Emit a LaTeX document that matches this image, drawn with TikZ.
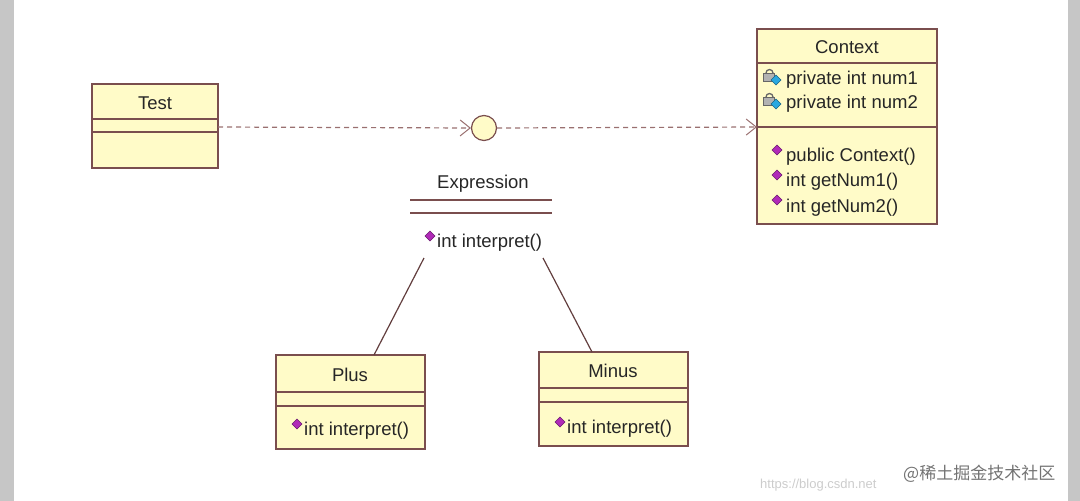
\documentclass[tikz,border=0pt]{standalone}
\usepackage{fontspec}
\setmainfont{Liberation Sans}
\newfontfamily\cjk{Noto Sans CJK SC}
\usetikzlibrary{arrows.meta}
\definecolor{fillY}{HTML}{FFFBC8}
\definecolor{brd}{HTML}{7A4E4E}
\definecolor{dash}{HTML}{9A7070}
\definecolor{mag}{HTML}{B02AB8}
\definecolor{lk}{HTML}{2AA8E0}
\tikzset{
  box/.style={draw=brd,fill=fillY,line width=1.4pt},
  sep/.style={draw=brd,line width=1.4pt},
  txt/.style={font=\fontsize{18.5}{20}\selectfont,text=black!85,inner sep=0pt},
  dep/.style={draw=dash,line width=1.2pt,dash pattern=on 5pt off 4pt,-{Straight Barb[length=10pt,width=16pt,line width=1pt]}},
  assoc/.style={draw=brd!80!black,line width=1.2pt},
  meth/.pic={\fill[mag,draw=mag!60!black,line width=0.4pt] (0,-5)--(5,0)--(0,5)--(-5,0)--cycle;},
  priv/.pic={\draw[black!60,line width=1.3pt] (-6,-4) arc (180:360:3.5); \fill[gray!60,draw=black!60] (-9,-4) rectangle (2,4); \fill[lk,draw=lk!60!black] (4,-2)--(9,3)--(4,8)--(-1,3)--cycle;}
}
\begin{document}
\begin{tikzpicture}[x=1pt,y=-1pt]
\useasboundingbox (0,0) rectangle (1080,501);
\fill[gray!45] (0,0) rectangle (14,501);
\fill[gray!45] (1068,0) rectangle (1080,501);
% Test
\draw[box] (92,84) rectangle (218,168);
\draw[sep] (92,119)--(218,119) (92,132)--(218,132);
\node[txt] (test) at (155,103) {Test};
\coordinate (testR) at (218,127);
% Context
\draw[box] (757,29) rectangle (937,224);
\draw[sep] (757,63)--(937,63) (757,127)--(937,127);
\node[txt] (ctx) at (847,47) {Context};
\coordinate (ctxL) at (757,127);
\pic at (772,77) {priv}; \node[txt,anchor=west] (a1) at (786,80) {private int num1};
\pic at (772,101) {priv}; \node[txt,anchor=west] (a2) at (786,104) {private int num2};
\pic at (777,150) {meth}; \node[txt,anchor=west] (m1) at (786,157) {public Context()};
\pic at (777,175) {meth}; \node[txt,anchor=west] (m2) at (786,182) {int getNum1()};
\pic at (777,200) {meth}; \node[txt,anchor=west] (m3) at (786,208) {int getNum2()};
% interface circle
\node[circle,draw=brd,fill=fillY,line width=1.2pt,minimum size=25pt,inner sep=0pt] (ifc) at (484,128) {};
\draw[dep] (testR) -- (ifc.west);
\draw[dep] (ifc.east) -- (ctxL);
% Expression
\node[txt] (expr) at (483,184) {Expression};
\draw[sep] (410,200)--(552,200) (410,213)--(552,213);
\pic at (430,236) {meth}; \node[txt,anchor=west] (em) at (437,243) {int interpret()};
\coordinate (e1) at (424,258); \coordinate (e2) at (543,258);
% Plus
\draw[box] (276,355) rectangle (425,449);
\draw[sep] (276,392)--(425,392) (276,406)--(425,406);
\node[txt] (plus) at (350,375) {Plus};
\pic at (297,424) {meth}; \node[txt,anchor=west] (pm) at (304,431) {int interpret()};
\coordinate (p) at (374,355);
% Minus
\draw[box] (539,352) rectangle (688,446);
\draw[sep] (539,388)--(688,388) (539,402)--(688,402);
\node[txt] (minus) at (613,371) {Minus};
\pic at (560,422) {meth}; \node[txt,anchor=west] (mm) at (567,429) {int interpret()};
\coordinate (mi) at (592,352);
\draw[assoc] (e1)--(p);
\draw[assoc] (e2)--(mi);
\node[font=\fontsize{13}{14}\selectfont,text=black!20,anchor=west,inner sep=0pt] (url) at (760,485) {https://blog.csdn.net};
\node[font=\cjk\fontsize{17}{18}\selectfont,text=black!55,anchor=west,inner sep=0pt] (wm) at (903,474) {@稀土掘金技术社区};
\end{tikzpicture}
\end{document}
